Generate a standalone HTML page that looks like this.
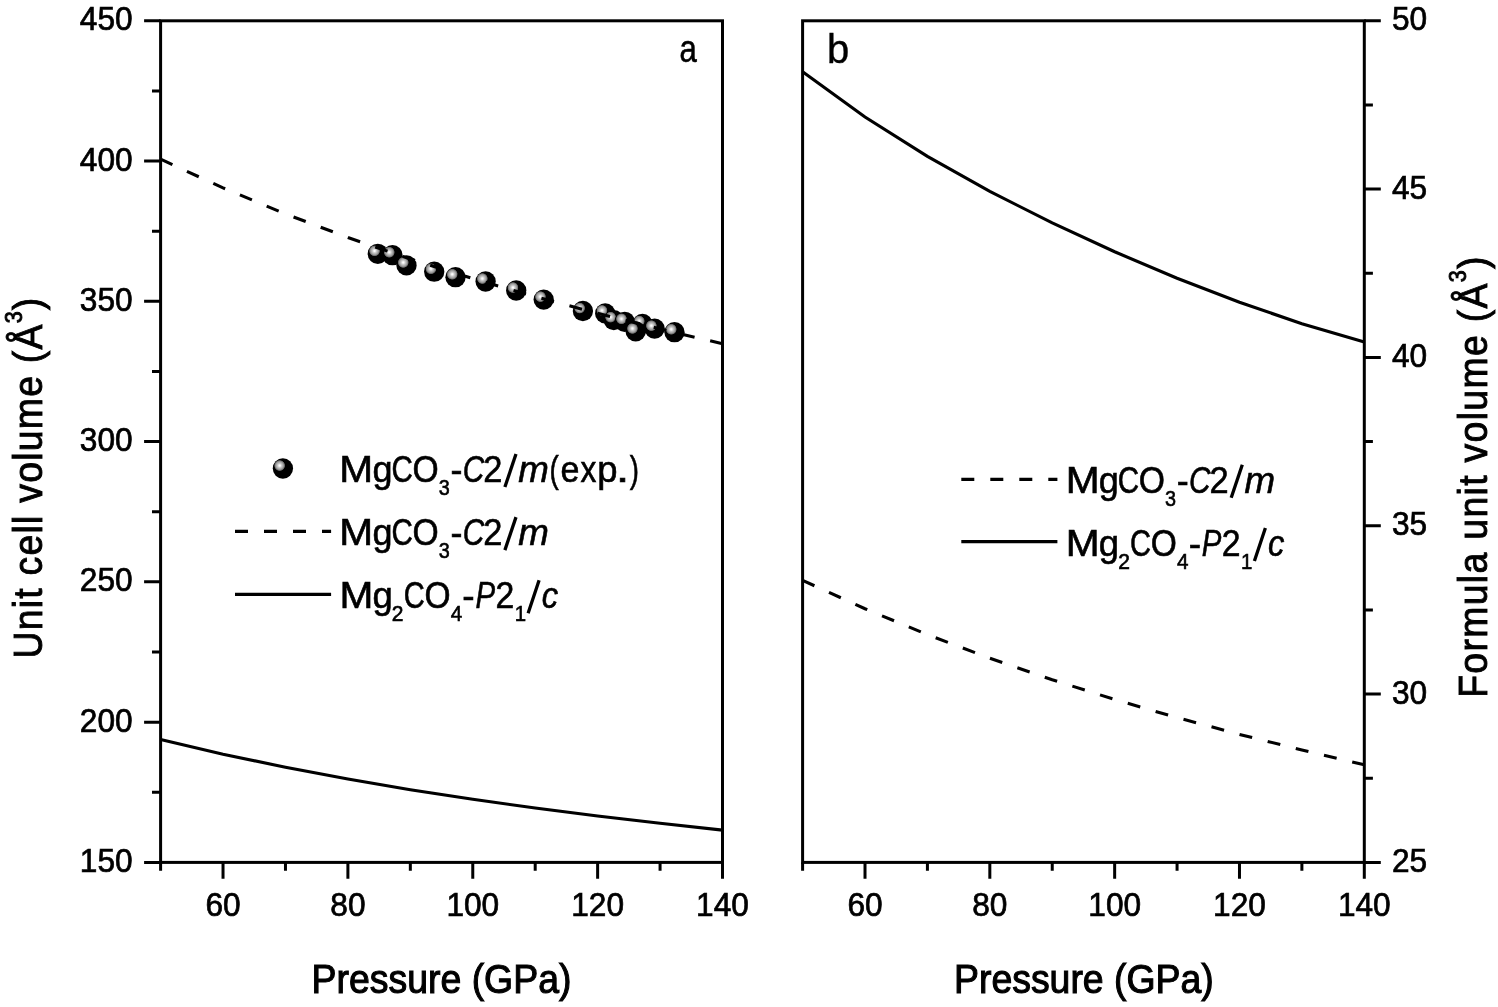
<!DOCTYPE html><html><head><meta charset="utf-8"><style>html,body{margin:0;padding:0;background:#fff;overflow:hidden}svg{display:block;will-change:transform}text{font-family:"Liberation Sans",sans-serif;fill:#000}</style></head><body>
<svg width="1498" height="1007" viewBox="0 0 1498 1007">
<defs><radialGradient id="sph" cx="0.34" cy="0.355" r="0.275" fx="0.34" fy="0.355"><stop offset="0" stop-color="#fff"/><stop offset="0.12" stop-color="#fafafa"/><stop offset="0.38" stop-color="#c8c8c8"/><stop offset="0.7" stop-color="#9a9a9a"/><stop offset="0.88" stop-color="#666"/><stop offset="1" stop-color="#000"/></radialGradient></defs>
<rect width="1498" height="1007" fill="#fff"/>
<circle cx="377.8" cy="253.8" r="10.15" fill="url(#sph)"/>
<circle cx="392.5" cy="255.2" r="10.15" fill="url(#sph)"/>
<circle cx="406.5" cy="265.4" r="10.15" fill="url(#sph)"/>
<circle cx="434.2" cy="271.7" r="10.15" fill="url(#sph)"/>
<circle cx="455.5" cy="277.2" r="10.15" fill="url(#sph)"/>
<circle cx="485.6" cy="281.5" r="10.15" fill="url(#sph)"/>
<circle cx="516.2" cy="290.5" r="10.15" fill="url(#sph)"/>
<circle cx="543.7" cy="299.6" r="10.15" fill="url(#sph)"/>
<circle cx="582.9" cy="311" r="10.15" fill="url(#sph)"/>
<circle cx="605.2" cy="313.4" r="10.15" fill="url(#sph)"/>
<circle cx="642.5" cy="324" r="10.15" fill="url(#sph)"/>
<circle cx="613.8" cy="320.1" r="10.15" fill="url(#sph)"/>
<circle cx="624.7" cy="321.8" r="10.15" fill="url(#sph)"/>
<circle cx="635.7" cy="331.4" r="10.15" fill="url(#sph)"/>
<circle cx="654.6" cy="328.6" r="10.15" fill="url(#sph)"/>
<circle cx="674.5" cy="332.2" r="10.15" fill="url(#sph)"/>
<polyline fill="none" stroke="#000" stroke-width="3.1" stroke-dasharray="13 16" points="160.60,159.18 223.03,187.88 285.47,213.90 347.90,237.52 410.33,259.01 472.77,278.62 535.20,296.64 597.63,313.32 660.07,328.95 722.50,343.77"/>
<polyline fill="none" stroke="#000" stroke-width="3.1" points="160.60,739.58 223.03,754.15 285.47,767.27 347.90,779.08 410.33,789.72 472.77,799.32 535.20,808.02 597.63,815.96 660.07,823.28 722.50,830.11"/>
<polyline fill="none" stroke="#000" stroke-width="3.1" stroke-dasharray="13 16" points="802.60,580.34 865.01,608.76 927.42,634.65 989.83,658.25 1052.24,679.79 1114.66,699.50 1177.07,717.62 1239.48,734.37 1301.89,750.00 1364.30,764.74"/>
<polyline fill="none" stroke="#000" stroke-width="3.1" points="802.60,71.79 865.01,116.94 927.42,156.37 989.83,191.38 1052.24,222.96 1114.66,251.78 1177.07,278.19 1239.48,302.26 1301.89,323.72 1364.30,342.01"/>
<rect x="160.6" y="20.8" width="561.90" height="841.60" fill="none" stroke="#000" stroke-width="3"/>
<rect x="802.6" y="20.8" width="561.70" height="841.60" fill="none" stroke="#000" stroke-width="3"/>
<path d="M144.10 20.80H160.6 M152.00 90.93H160.6 M144.10 161.07H160.6 M152.00 231.20H160.6 M144.10 301.33H160.6 M152.00 371.47H160.6 M144.10 441.60H160.6 M152.00 511.73H160.6 M144.10 581.87H160.6 M152.00 652.00H160.6 M144.10 722.13H160.6 M152.00 792.27H160.6 M144.10 862.40H160.6 M1364.30 20.80H1380.80 M1364.30 104.96H1372.90 M1364.30 189.12H1380.80 M1364.30 273.28H1372.90 M1364.30 357.44H1380.80 M1364.30 441.60H1372.90 M1364.30 525.76H1380.80 M1364.30 609.92H1372.90 M1364.30 694.08H1380.80 M1364.30 778.24H1372.90 M1364.30 862.40H1380.80 M160.60 862.4V870.80 M223.03 862.4V878.70 M285.47 862.4V870.80 M347.90 862.4V878.70 M410.33 862.4V870.80 M472.77 862.4V878.70 M535.20 862.4V870.80 M597.63 862.4V878.70 M660.07 862.4V870.80 M722.50 862.4V878.70 M802.60 862.4V870.80 M865.01 862.4V878.70 M927.42 862.4V870.80 M989.83 862.4V878.70 M1052.24 862.4V870.80 M1114.66 862.4V878.70 M1177.07 862.4V870.80 M1239.48 862.4V878.70 M1301.89 862.4V870.80 M1364.30 862.4V878.70" stroke="#000" stroke-width="3" fill="none"/>
<text transform="translate(132.6,30.2) scale(0.965,1)" font-size="32.8" stroke="#000" stroke-width="0.7" text-anchor="end">450</text>
<text transform="translate(132.6,170.5) scale(0.965,1)" font-size="32.8" stroke="#000" stroke-width="0.7" text-anchor="end">400</text>
<text transform="translate(132.6,310.7) scale(0.965,1)" font-size="32.8" stroke="#000" stroke-width="0.7" text-anchor="end">350</text>
<text transform="translate(132.6,451.0) scale(0.965,1)" font-size="32.8" stroke="#000" stroke-width="0.7" text-anchor="end">300</text>
<text transform="translate(132.6,591.3) scale(0.965,1)" font-size="32.8" stroke="#000" stroke-width="0.7" text-anchor="end">250</text>
<text transform="translate(132.6,731.5) scale(0.965,1)" font-size="32.8" stroke="#000" stroke-width="0.7" text-anchor="end">200</text>
<text transform="translate(132.6,871.8) scale(0.965,1)" font-size="32.8" stroke="#000" stroke-width="0.7" text-anchor="end">150</text>
<text transform="translate(1392.0,30.4) scale(0.965,1)" font-size="32.8" stroke="#000" stroke-width="0.7">50</text>
<text transform="translate(1392.0,198.7) scale(0.965,1)" font-size="32.8" stroke="#000" stroke-width="0.7">45</text>
<text transform="translate(1392.0,367.0) scale(0.965,1)" font-size="32.8" stroke="#000" stroke-width="0.7">40</text>
<text transform="translate(1392.0,535.4) scale(0.965,1)" font-size="32.8" stroke="#000" stroke-width="0.7">35</text>
<text transform="translate(1392.0,703.7) scale(0.965,1)" font-size="32.8" stroke="#000" stroke-width="0.7">30</text>
<text transform="translate(1392.0,872.0) scale(0.965,1)" font-size="32.8" stroke="#000" stroke-width="0.7">25</text>
<text transform="translate(223.0,916.2) scale(0.965,1)" font-size="32.8" stroke="#000" stroke-width="0.7" text-anchor="middle">60</text>
<text transform="translate(347.9,916.2) scale(0.965,1)" font-size="32.8" stroke="#000" stroke-width="0.7" text-anchor="middle">80</text>
<text transform="translate(472.8,916.2) scale(0.965,1)" font-size="32.8" stroke="#000" stroke-width="0.7" text-anchor="middle">100</text>
<text transform="translate(597.6,916.2) scale(0.965,1)" font-size="32.8" stroke="#000" stroke-width="0.7" text-anchor="middle">120</text>
<text transform="translate(722.5,916.2) scale(0.965,1)" font-size="32.8" stroke="#000" stroke-width="0.7" text-anchor="middle">140</text>
<text transform="translate(865.0,916.2) scale(0.965,1)" font-size="32.8" stroke="#000" stroke-width="0.7" text-anchor="middle">60</text>
<text transform="translate(989.8,916.2) scale(0.965,1)" font-size="32.8" stroke="#000" stroke-width="0.7" text-anchor="middle">80</text>
<text transform="translate(1114.7,916.2) scale(0.965,1)" font-size="32.8" stroke="#000" stroke-width="0.7" text-anchor="middle">100</text>
<text transform="translate(1239.5,916.2) scale(0.965,1)" font-size="32.8" stroke="#000" stroke-width="0.7" text-anchor="middle">120</text>
<text transform="translate(1364.3,916.2) scale(0.965,1)" font-size="32.8" stroke="#000" stroke-width="0.7" text-anchor="middle">140</text>
<text transform="translate(441.5,993) scale(0.935,1)" font-size="40" stroke="#000" stroke-width="1.1" text-anchor="middle">Pressure (GPa)</text>
<text transform="translate(1083.9,993) scale(0.935,1)" font-size="40" stroke="#000" stroke-width="1.1" text-anchor="middle">Pressure (GPa)</text>
<text transform="translate(42.4,477.5) rotate(-90) scale(0.935,1)" font-size="40" stroke="#000" stroke-width="0.9" letter-spacing="1.32" text-anchor="middle">Unit cell volume (Å<tspan font-size="23" dy="-20.8">3</tspan><tspan dy="20.8">)</tspan></text>
<text transform="translate(1486.5,476.5) rotate(-90) scale(0.935,1)" font-size="40" stroke="#000" stroke-width="0.9" letter-spacing="1.41" text-anchor="middle">Formula unit volume (Å<tspan font-size="23" dy="-20.8">3</tspan><tspan dy="20.8">)</tspan></text>
<text transform="translate(679.6,62.3) scale(0.82,1)" font-size="38" stroke="#000" stroke-width="0.6">a</text>
<text x="827" y="63" font-size="40" stroke="#000" stroke-width="0.4">b</text>
<circle cx="282.9" cy="468.5" r="10.15" fill="url(#sph)"/>
<text transform="translate(339.37,482.00) scale(1.117,1)" font-size="36.4" stroke="#000" stroke-width="0.6">M</text><text transform="translate(372.39,482.00) scale(0.989,1)" font-size="36.4" stroke="#000" stroke-width="0.6">g</text><text transform="translate(391.49,482.00) scale(0.812,1)" font-size="36.4" stroke="#000" stroke-width="0.6">C</text><text transform="translate(412.52,482.00) scale(0.925,1)" font-size="36.4" stroke="#000" stroke-width="0.6">O</text><text transform="translate(438.75,494.80) scale(0.922,1)" font-size="21.5" stroke="#000" stroke-width="0.6">3</text><text transform="translate(450.52,482.00) scale(0.987,1)" font-size="36.4" stroke="#000" stroke-width="0.6">-</text><text transform="translate(462.66,482.00) scale(0.818,1)" font-size="36.4" font-style="italic" stroke="#000" stroke-width="0.6">C</text><text transform="translate(483.28,482.00) scale(0.946,1)" font-size="36.4" stroke="#000" stroke-width="0.6">2</text><path d="M504.90 487.00L516.00 454.00" stroke="#000" stroke-width="3.3"/><text transform="translate(518.28,482.00) scale(1.010,1)" font-size="36.4" font-style="italic" stroke="#000" stroke-width="0.6">m</text><text transform="translate(549.57,482.00) scale(0.767,1)" font-size="36.4" stroke="#000" stroke-width="0.6">(</text><text transform="translate(560.57,482.00) scale(0.935,1)" font-size="36.4" stroke="#000" stroke-width="0.6">e</text><text transform="translate(580.62,482.00) scale(0.870,1)" font-size="36.4" stroke="#000" stroke-width="0.6">x</text><text transform="translate(597.37,482.00) scale(1.001,1)" font-size="36.4" stroke="#000" stroke-width="0.6">p</text><text transform="translate(615.64,482.00) scale(1.345,1)" font-size="36.4" stroke="#000" stroke-width="0.6">.</text><text transform="translate(629.63,482.00) scale(0.757,1)" font-size="36.4" stroke="#000" stroke-width="0.6">)</text>
<path d="M235 531.3H331.1" stroke="#000" stroke-width="3.2" stroke-dasharray="13 16"/>
<text transform="translate(339.37,545.10) scale(1.117,1)" font-size="36.4" stroke="#000" stroke-width="0.6">M</text><text transform="translate(372.39,545.10) scale(0.989,1)" font-size="36.4" stroke="#000" stroke-width="0.6">g</text><text transform="translate(391.49,545.10) scale(0.812,1)" font-size="36.4" stroke="#000" stroke-width="0.6">C</text><text transform="translate(412.52,545.10) scale(0.925,1)" font-size="36.4" stroke="#000" stroke-width="0.6">O</text><text transform="translate(438.75,557.90) scale(0.922,1)" font-size="21.5" stroke="#000" stroke-width="0.6">3</text><text transform="translate(450.52,545.10) scale(0.987,1)" font-size="36.4" stroke="#000" stroke-width="0.6">-</text><text transform="translate(462.66,545.10) scale(0.818,1)" font-size="36.4" font-style="italic" stroke="#000" stroke-width="0.6">C</text><text transform="translate(483.28,545.10) scale(0.946,1)" font-size="36.4" stroke="#000" stroke-width="0.6">2</text><path d="M504.90 550.10L516.00 517.10" stroke="#000" stroke-width="3.3"/><text transform="translate(518.28,545.10) scale(1.010,1)" font-size="36.4" font-style="italic" stroke="#000" stroke-width="0.6">m</text>
<path d="M235 594.3H331.1" stroke="#000" stroke-width="3.2"/>
<text transform="translate(339.47,608.20) scale(1.117,1)" font-size="36.4" stroke="#000" stroke-width="0.6">M</text><text transform="translate(372.57,608.20) scale(1.001,1)" font-size="36.4" stroke="#000" stroke-width="0.6">g</text><text transform="translate(391.85,621.00) scale(0.979,1)" font-size="21.5" stroke="#000" stroke-width="0.6">2</text><text transform="translate(403.82,608.20) scale(0.799,1)" font-size="36.4" stroke="#000" stroke-width="0.6">C</text><text transform="translate(424.52,608.20) scale(0.921,1)" font-size="36.4" stroke="#000" stroke-width="0.6">O</text><text transform="translate(450.63,621.00) scale(0.960,1)" font-size="21.5" stroke="#000" stroke-width="0.6">4</text><text transform="translate(462.37,608.20) scale(1.020,1)" font-size="36.4" stroke="#000" stroke-width="0.6">-</text><text transform="translate(475.39,608.20) scale(0.807,1)" font-size="36.4" font-style="italic" stroke="#000" stroke-width="0.6">P</text><text transform="translate(495.41,608.20) scale(0.928,1)" font-size="36.4" stroke="#000" stroke-width="0.6">2</text><text transform="translate(514.75,621.00) scale(0.950,1)" font-size="21.5" stroke="#000" stroke-width="0.6">1</text><path d="M528.10 613.20L539.10 580.20" stroke="#000" stroke-width="3.3"/><text transform="translate(541.72,608.20) scale(0.898,1)" font-size="36.4" font-style="italic" stroke="#000" stroke-width="0.6">c</text>
<path d="M961.3 479.3H1057.4" stroke="#000" stroke-width="3.2" stroke-dasharray="13 16"/>
<text transform="translate(1065.67,492.80) scale(1.117,1)" font-size="36.4" stroke="#000" stroke-width="0.6">M</text><text transform="translate(1098.69,492.80) scale(0.989,1)" font-size="36.4" stroke="#000" stroke-width="0.6">g</text><text transform="translate(1117.79,492.80) scale(0.812,1)" font-size="36.4" stroke="#000" stroke-width="0.6">C</text><text transform="translate(1138.82,492.80) scale(0.925,1)" font-size="36.4" stroke="#000" stroke-width="0.6">O</text><text transform="translate(1165.05,505.60) scale(0.922,1)" font-size="21.5" stroke="#000" stroke-width="0.6">3</text><text transform="translate(1176.82,492.80) scale(0.987,1)" font-size="36.4" stroke="#000" stroke-width="0.6">-</text><text transform="translate(1188.96,492.80) scale(0.818,1)" font-size="36.4" font-style="italic" stroke="#000" stroke-width="0.6">C</text><text transform="translate(1209.58,492.80) scale(0.946,1)" font-size="36.4" stroke="#000" stroke-width="0.6">2</text><path d="M1231.20 497.80L1242.30 464.80" stroke="#000" stroke-width="3.3"/><text transform="translate(1244.58,492.80) scale(1.010,1)" font-size="36.4" font-style="italic" stroke="#000" stroke-width="0.6">m</text>
<path d="M961.3 541.6H1057.4" stroke="#000" stroke-width="3.2"/>
<text transform="translate(1065.77,556.10) scale(1.117,1)" font-size="36.4" stroke="#000" stroke-width="0.6">M</text><text transform="translate(1098.87,556.10) scale(1.001,1)" font-size="36.4" stroke="#000" stroke-width="0.6">g</text><text transform="translate(1118.15,568.90) scale(0.979,1)" font-size="21.5" stroke="#000" stroke-width="0.6">2</text><text transform="translate(1130.12,556.10) scale(0.799,1)" font-size="36.4" stroke="#000" stroke-width="0.6">C</text><text transform="translate(1150.82,556.10) scale(0.921,1)" font-size="36.4" stroke="#000" stroke-width="0.6">O</text><text transform="translate(1176.93,568.90) scale(0.960,1)" font-size="21.5" stroke="#000" stroke-width="0.6">4</text><text transform="translate(1188.67,556.10) scale(1.020,1)" font-size="36.4" stroke="#000" stroke-width="0.6">-</text><text transform="translate(1201.69,556.10) scale(0.807,1)" font-size="36.4" font-style="italic" stroke="#000" stroke-width="0.6">P</text><text transform="translate(1221.71,556.10) scale(0.928,1)" font-size="36.4" stroke="#000" stroke-width="0.6">2</text><text transform="translate(1241.05,568.90) scale(0.950,1)" font-size="21.5" stroke="#000" stroke-width="0.6">1</text><path d="M1254.40 561.10L1265.40 528.10" stroke="#000" stroke-width="3.3"/><text transform="translate(1268.02,556.10) scale(0.898,1)" font-size="36.4" font-style="italic" stroke="#000" stroke-width="0.6">c</text>
</svg></body></html>
